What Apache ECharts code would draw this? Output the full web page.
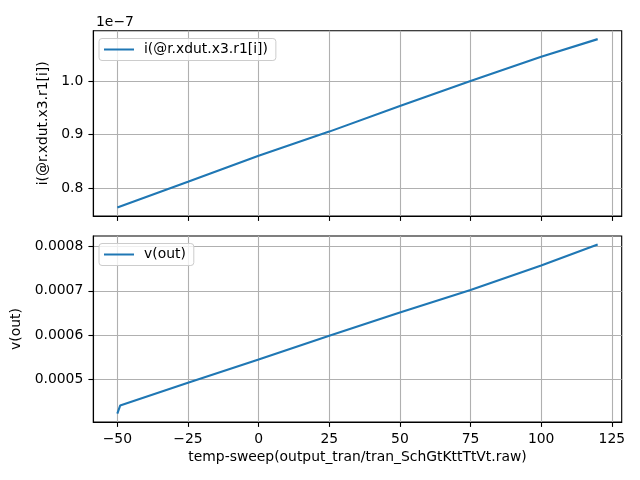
<!DOCTYPE html>
<html><head><meta charset="utf-8">
<script src="https://cdn.jsdelivr.net/npm/echarts@6/dist/echarts.min.js"></script>
<style>html,body{margin:0;padding:0;background:#fff}#c{width:640px;height:480px}</style>
</head><body><div id="c"></div>
<script>
// ---- data ----
const tempTop = [-50, -25, 0, 25, 50, 75, 100, 120];
const currentVals = [0.764e-7, 0.8123e-7, 0.8608e-7, 0.9056e-7, 0.9535e-7, 1.0e-7, 1.0453e-7, 1.078e-7];
const tempBottom = [-50, -49, -25, 0, 25, 50, 75, 100, 120];
const voutVals = [0.000423, 0.000441, 0.0004923, 0.000545, 0.0005984, 0.000651, 0.000702, 0.000757, 0.0008045];
const xTicks = [-50, -25, 0, 25, 50, 75, 100, 125];
const yTicksTop = [0.8e-7, 0.9e-7, 1.0e-7];
const yTicksBottom = [0.0005, 0.0006, 0.0007, 0.0008];
const seriesNames = ['i(@r.xdut.x3.r1[i])', 'v(out)'];
const xLabel = 'temp-sweep(output_tran/tran_SchGtKttTtVt.raw)';

function padRange(arr) {
  const mn = Math.min(...arr), mx = Math.max(...arr), r = mx - mn;
  return [mn - 0.05 * r, mx + 0.05 * r];
}
const xr = padRange(tempTop);
const yrTop = padRange(currentVals);
const yrBot = padRange(voutVals);

const FONT = 'DejaVu Sans';
const FS = 13.9;
const BLUE = '#1f77b4';
const GRIDC = '#b0b0b0';

function xAxis(gridIndex, showLabels, name) {
  return {
    type: 'value', gridIndex, min: xr[0], max: xr[1],
    name: name || '', nameLocation: 'middle', nameGap: 28,
    nameTextStyle: { fontFamily: FONT, fontSize: FS, color: '#000' },
    axisLine: { show: true, onZero: false, lineStyle: { color: '#000', width: 1.1 } },
    axisTick: { show: true, inside: false, length: 4.9, customValues: xTicks, lineStyle: { color: '#000', width: 1.1 } },
    axisLabel: { show: showLabels, margin: 10, customValues: xTicks, fontFamily: FONT, fontSize: FS, color: '#000',
      formatter: v => String(Math.round(v)).replace('-', '\u2212') },
    splitLine: { show: true, lineStyle: { color: GRIDC, width: 1.1 } }
  };
}
function yAxis(gridIndex, range, ticks, fmt, name, gap) {
  return {
    type: 'value', gridIndex, min: range[0], max: range[1],
    name, nameLocation: 'middle', nameGap: gap, nameRotate: 90,
    nameTextStyle: { fontFamily: FONT, fontSize: FS, color: '#000' },
    axisLine: { show: true, onZero: false, lineStyle: { color: '#000', width: 1.1 } },
    axisTick: { show: true, inside: false, length: 4.9, customValues: ticks, lineStyle: { color: '#000', width: 1.1 } },
    axisLabel: { show: true, margin: 10, customValues: ticks, fontFamily: FONT, fontSize: FS, color: '#000', formatter: fmt },
    splitLine: { show: true, lineStyle: { color: GRIDC, width: 1.1 } }
  };
}
function legend(name, top) {
  return {
    data: [name], left: 99, top, orient: 'vertical',
    backgroundColor: 'rgba(255,255,255,0.8)', borderColor: '#cccccc', borderWidth: 1, borderRadius: 3,
    padding: [4, 8, 4, 5], icon: 'rect', itemWidth: 30, itemHeight: 2,
    textStyle: { fontFamily: FONT, fontSize: FS, color: '#000', padding: [0, 0, 0, 5] }
  };
}

const chart = echarts.init(document.getElementById('c'), null, { renderer: 'canvas' });
chart.setOption({
  animation: false,
  backgroundColor: '#fff',
  title: { text: '1e\u22127', left: 91, top: 10, textStyle: { fontFamily: FONT, fontSize: FS, fontWeight: 'normal', color: '#000' } },
  grid: [
    { left: 93.3, right: 18.3, top: 30.7, height: 185.3, outerBoundsMode: 'none', show: true, borderColor: '#000', borderWidth: 1.1, backgroundColor: 'transparent' },
    { left: 93.3, right: 18.3, top: 236, height: 186, outerBoundsMode: 'none', show: true, borderColor: '#000', borderWidth: 1.1, backgroundColor: 'transparent' }
  ],
  legend: [legend(seriesNames[0], 38.5), legend(seriesNames[1], 243.5)],
  xAxis: [xAxis(0, false), xAxis(1, true, xLabel)],
  yAxis: [
    yAxis(0, yrTop, yTicksTop, v => (v / 1e-7).toFixed(1), seriesNames[0], 40),
    yAxis(1, yrBot, yTicksBottom, v => v.toFixed(4), seriesNames[1], 63)
  ],
  series: [
    { name: seriesNames[0], type: 'line', xAxisIndex: 0, yAxisIndex: 0, symbol: 'none',
      lineStyle: { color: BLUE, width: 2.1 }, itemStyle: { color: BLUE },
      data: tempTop.map((t, i) => [t, currentVals[i]]) },
    { name: seriesNames[1], type: 'line', xAxisIndex: 1, yAxisIndex: 1, symbol: 'none',
      lineStyle: { color: BLUE, width: 2.1 }, itemStyle: { color: BLUE },
      data: tempBottom.map((t, i) => [t, voutVals[i]]) }
  ]
});
</script></body></html>
